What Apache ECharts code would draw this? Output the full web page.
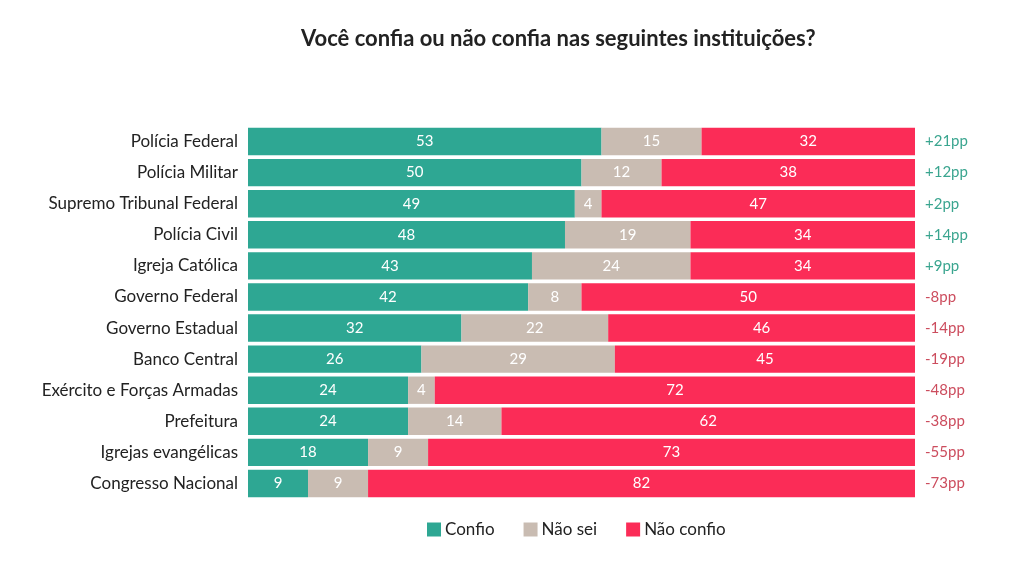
<!DOCTYPE html>
<html><head><meta charset="utf-8">
<script src="https://cdn.jsdelivr.net/npm/echarts@6/dist/echarts.min.js"></script>
<style>html,body{margin:0;padding:0;background:#fff}#c{width:1024px;height:568px}</style>
</head><body><div id="c"></div>
<script>
const categories = ["Polícia Federal","Polícia Militar","Supremo Tribunal Federal","Polícia Civil","Igreja Católica","Governo Federal","Governo Estadual","Banco Central","Exército e Forças Armadas","Prefeitura","Igrejas evangélicas","Congresso Nacional"];
const confio = [53,50,49,48,43,42,32,26,24,24,18,9];
const naoSei = [15,12,4,19,24,8,22,29,4,14,9,9];
const naoConfio = [32,38,47,34,34,50,46,45,72,62,73,82];
const netLabels = ["+21pp","+12pp","+2pp","+14pp","+9pp","-8pp","-14pp","-19pp","-48pp","-38pp","-55pp","-73pp"];
const seriesNames = ["Confio","Não sei","Não confio"];
const colors = ["#2ea793","#c9bcb2","#fb2c57"];

const totals = categories.map((_, i) => confio[i] + naoSei[i] + naoConfio[i]);
function mk(arr){ return arr.map((v,i)=>({value: v/totals[i]*100, raw: v})); }
const font = "Lato, 'Open Sans', sans-serif";
const chart = echarts.init(document.getElementById('c'));
chart.setOption({
  animation:false,
  title:{text:"Você confia ou não confia nas seguintes instituições?", left:296, top:23,
    textStyle:{fontFamily:font, fontSize:22, fontWeight:'bold', color:'#222'}},
  legend:{top:516, left:422, itemWidth:14, itemHeight:14, itemGap:29, icon:'rect',
    textStyle:{fontFamily:font, fontSize:17, color:'#222', padding:[0,0,0,-1]},
    data:seriesNames},
  grid:{left:248, right:109, top:126, bottom:69},
  xAxis:{type:'value', min:0, max:100, show:false},
  yAxis:[{type:'category', data:categories, inverse:true, axisLine:{show:false}, axisTick:{show:false},
    axisLabel:{fontFamily:font, fontSize:17, color:'#222', margin:10}},
    {type:'category', data:categories, inverse:true, position:'right', axisLine:{show:false}, axisTick:{show:false},
    axisLabel:{margin:10, formatter:(v,i)=>{const t=netLabels[i]; return t[0]==='+'?'{p|'+t+'}':'{n|'+t+'}';},
      rich:{p:{fontFamily:font,fontSize:15,color:'#3aa58f'}, n:{fontFamily:font,fontSize:15,color:'#cc4d5e'}}}}],
  series:[confio,naoSei,naoConfio].map((arr,k)=>({
    name:seriesNames[k], type:'bar', stack:'a', data:mk(arr), barCategoryGap:'12%',
    itemStyle:{color:colors[k]},
    label:{show:true, position:'inside', color:'#fff', fontFamily:font, fontSize:15,
      formatter:p=>p.data.raw}
  }))
});
</script></body></html>
